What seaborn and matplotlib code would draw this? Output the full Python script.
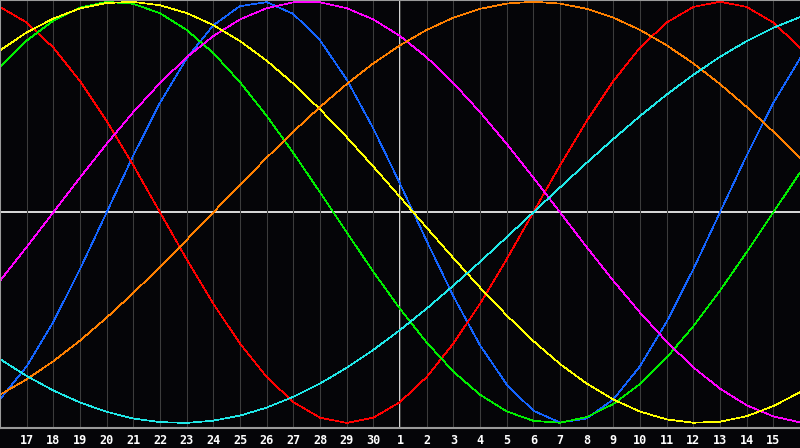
import matplotlib
matplotlib.use("Agg")
import matplotlib.pyplot as plt
import pandas as pd
import seaborn as sns

# day offsets from the centre day (the "1" in the middle of the chart)
offsets = list(range(-15, 16))
tick_offsets = list(range(-14, 15))
day_labels = ['17', '18', '19', '20', '21', '22', '23', '24', '25', '26',
              '27', '28', '29', '30', '1', '2', '3', '4', '5', '6', '7',
              '8', '9', '10', '11', '12', '13', '14', '15']

# daily cycle values (-1 .. 1), one per offset
physical = [-0.888, -0.731, -0.520, -0.270, 0.0, 0.270, 0.520, 0.731, 0.888,
            0.979, 0.998, 0.942, 0.817, 0.631, 0.398, 0.136, -0.136, -0.398,
            -0.631, -0.817, -0.942, -0.998, -0.979, -0.888, -0.731, -0.520,
            -0.270, 0.0, 0.270, 0.520, 0.731]
emotional = [0.975, 0.901, 0.782, 0.623, 0.434, 0.223, 0.0, -0.223, -0.434,
             -0.623, -0.782, -0.901, -0.975, -1.0, -0.975, -0.901, -0.782,
             -0.623, -0.434, -0.223, 0.0, 0.223, 0.434, 0.623, 0.782, 0.901,
             0.975, 1.0, 0.975, 0.901, 0.782]
intellectual = [0.690, 0.815, 0.910, 0.972, 0.999, 0.990, 0.945, 0.866, 0.756,
                0.618, 0.458, 0.282, 0.095, -0.095, -0.282, -0.458, -0.618,
                -0.756, -0.866, -0.945, -0.990, -0.999, -0.972, -0.910,
                -0.815, -0.690, -0.541, -0.372, -0.189, 0.0, 0.189]
intuitive = [-0.325, -0.165, 0.0, 0.165, 0.325, 0.476, 0.614, 0.736, 0.837,
             0.916, 0.969, 0.997, 0.997, 0.969, 0.916, 0.837, 0.736, 0.614,
             0.476, 0.325, 0.165, 0.0, -0.165, -0.325, -0.476, -0.614,
             -0.736, -0.837, -0.916, -0.969, -0.997]
aesthetic = [0.769, 0.854, 0.920, 0.968, 0.994, 0.999, 0.983, 0.946, 0.889,
             0.813, 0.720, 0.611, 0.489, 0.357, 0.217, 0.073, -0.073, -0.217,
             -0.357, -0.489, -0.611, -0.720, -0.813, -0.889, -0.946, -0.983,
             -0.999, -0.994, -0.968, -0.920, -0.854]
awareness = [-0.866, -0.793, -0.707, -0.609, -0.5, -0.383, -0.259, -0.131, 0.0,
             0.131, 0.259, 0.383, 0.5, 0.609, 0.707, 0.793, 0.866, 0.924,
             0.966, 0.991, 1.0, 0.991, 0.966, 0.924, 0.866, 0.793, 0.707,
             0.609, 0.5, 0.383, 0.259]
spiritual = [-0.697, -0.777, -0.846, -0.903, -0.947, -0.979, -0.996, -1.0,
             -0.989, -0.965, -0.927, -0.876, -0.813, -0.738, -0.653, -0.559,
             -0.457, -0.348, -0.235, -0.118, 0.0, 0.118, 0.235, 0.348, 0.457,
             0.559, 0.653, 0.738, 0.813, 0.876, 0.927]

cycles = {'physical': physical, 'emotional': emotional,
          'intellectual': intellectual, 'intuitive': intuitive,
          'aesthetic': aesthetic, 'awareness': awareness,
          'spiritual': spiritual}
colors = {'physical': '#1464ff', 'emotional': '#ff0000',
          'intellectual': '#00ee00', 'intuitive': '#ff00ff',
          'aesthetic': '#ffff00', 'awareness': '#ff8000',
          'spiritual': '#20e8e8'}

df = pd.concat([pd.DataFrame({'offset': offsets, 'value': v, 'cycle': k})
                for k, v in cycles.items()], ignore_index=True)

bg = '#050508'
fig = plt.figure(figsize=(8, 4.48), dpi=100, facecolor=bg)
ax = fig.add_axes([0, 20 / 448, 1, 428 / 448])
ax.set_facecolor(bg)

# day grid
ax.set_xticks(tick_offsets)
ax.set_xticklabels(day_labels, fontfamily='DejaVu Sans Mono',
                   fontweight='bold')
ax.grid(axis='x', color='#3c3c3c', lw=0.75)
ax.set_yticks([])
ax.tick_params(axis='x', length=0, pad=4, colors='white', labelsize=8.5)

sns.lineplot(data=df, x='offset', y='value', hue='cycle',
             hue_order=list(cycles), palette=colors, estimator=None,
             legend=False, linewidth=0.5, antialiased=False, ax=ax)

ax.axhline(0, color='white', lw=1.2, zorder=1.5)
ax.axvline(0, color='white', lw=1.2, zorder=1.5)

ax.set_xlim(-15, 15)
ax.set_ylim(-1.024, 1.008)
ax.set_xlabel('')
ax.set_ylabel('')
for side in ['left', 'top', 'bottom']:
    ax.spines[side].set_color('#9a9a9a')
    ax.spines[side].set_linewidth(1.5)
ax.spines['right'].set_visible(False)

fig.savefig('out.png', dpi=100, facecolor=bg)
